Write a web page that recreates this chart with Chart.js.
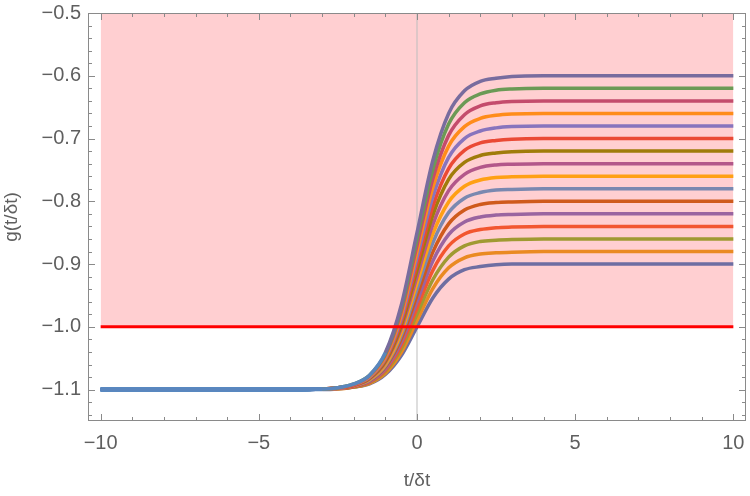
<!DOCTYPE html>
<html>
<head>
<meta charset="utf-8">
<script src="https://cdn.jsdelivr.net/npm/chart.js@4"></script>
<style>
  html, body { margin: 0; padding: 0; background: #fff; }
  #wrap { width: 750px; height: 496px; }
</style>
</head>
<body>
<div id="wrap"><canvas id="c" width="750" height="496"></canvas></div>
<script>
// sample times t/δt, shared by every curve
const tValues = [-10, -4, -3, -2.5, -2, -1.5, -1, -0.5, 0, 0.5, 1, 1.5, 2, 2.5, 3, 4, 10];

// g(t/δt), top (-0.60) to bottom (-0.90)
const g060 = [-1.1, -1.100, -1.099, -1.097, -1.091, -1.077, -1.041, -0.966, -0.85, -0.735, -0.660, -0.624, -0.609, -0.604, -0.601, -0.600, -0.60];
const g062 = [-1.1, -1.100, -1.099, -1.097, -1.091, -1.077, -1.043, -0.971, -0.86, -0.749, -0.677, -0.643, -0.629, -0.623, -0.621, -0.620, -0.62];
const g064 = [-1.1, -1.100, -1.099, -1.097, -1.092, -1.078, -1.045, -0.976, -0.87, -0.764, -0.695, -0.662, -0.648, -0.643, -0.641, -0.640, -0.64];
const g066 = [-1.1, -1.100, -1.099, -1.097, -1.092, -1.079, -1.048, -0.982, -0.88, -0.778, -0.712, -0.681, -0.668, -0.663, -0.661, -0.660, -0.66];
const g068 = [-1.1, -1.100, -1.099, -1.097, -1.092, -1.080, -1.050, -0.987, -0.89, -0.793, -0.730, -0.700, -0.688, -0.683, -0.681, -0.680, -0.68];
const g070 = [-1.1, -1.100, -1.099, -1.097, -1.093, -1.081, -1.052, -0.992, -0.90, -0.808, -0.748, -0.719, -0.707, -0.703, -0.701, -0.700, -0.70];
const g072 = [-1.1, -1.100, -1.099, -1.097, -1.093, -1.082, -1.055, -0.998, -0.91, -0.822, -0.765, -0.738, -0.727, -0.723, -0.721, -0.720, -0.72];
const g074 = [-1.1, -1.100, -1.099, -1.098, -1.094, -1.083, -1.057, -1.003, -0.92, -0.837, -0.783, -0.757, -0.746, -0.742, -0.741, -0.740, -0.74];
const g076 = [-1.1, -1.100, -1.099, -1.098, -1.094, -1.084, -1.060, -1.009, -0.93, -0.852, -0.801, -0.776, -0.766, -0.762, -0.761, -0.760, -0.76];
const g078 = [-1.1, -1.100, -1.099, -1.098, -1.094, -1.085, -1.062, -1.014, -0.94, -0.866, -0.818, -0.795, -0.786, -0.782, -0.781, -0.780, -0.78];
const g080 = [-1.1, -1.100, -1.099, -1.098, -1.095, -1.086, -1.064, -1.019, -0.95, -0.881, -0.836, -0.814, -0.805, -0.802, -0.801, -0.800, -0.80];
const g082 = [-1.1, -1.100, -1.099, -1.098, -1.095, -1.087, -1.067, -1.025, -0.96, -0.895, -0.853, -0.833, -0.825, -0.822, -0.821, -0.820, -0.82];
const g084 = [-1.1, -1.100, -1.099, -1.098, -1.095, -1.088, -1.069, -1.030, -0.97, -0.910, -0.871, -0.852, -0.845, -0.842, -0.841, -0.840, -0.84];
const g086 = [-1.1, -1.100, -1.099, -1.098, -1.096, -1.089, -1.071, -1.035, -0.98, -0.925, -0.889, -0.871, -0.864, -0.862, -0.861, -0.860, -0.86];
const g088 = [-1.1, -1.100, -1.099, -1.099, -1.096, -1.090, -1.074, -1.041, -0.99, -0.939, -0.906, -0.890, -0.884, -0.882, -0.881, -0.880, -0.88];
const g090 = [-1.1, -1.100, -1.100, -1.099, -1.096, -1.091, -1.076, -1.046, -1.00, -0.954, -0.924, -0.909, -0.904, -0.901, -0.900, -0.900, -0.90];

const curveColors = ['#786c9e', '#6b9a55', '#c44c6c', '#ff8c1a', '#8874bd', '#ea4a35', '#a07c0a', '#b3578a',
                     '#ffa014', '#7a88b0', '#cf5a1c', '#9a64a0', '#f25630', '#a09a32', '#ea8a22', '#6e6ea2'];

// shaded band, threshold line, x = 0 axis
const bandX = [-10, 10];
const bandTop = -0.5;
const threshold = -1.0;
const xRange = [-10.4, 10.4];
const yRange = [-1.15, -0.5];

const xTicks = [-10, -5, 0, 5, 10];
const xTickLabels = ['−10', '−5', '0', '5', '10'];
const yTicks = [-1.1, -1.0, -0.9, -0.8, -0.7, -0.6, -0.5];
const yTickLabels = ['−1.1', '−1.0', '−0.9', '−0.8', '−0.7', '−0.6', '−0.5'];

const curves = [g060, g062, g064, g066, g068, g070, g072, g074, g076, g078, g080, g082, g084, g086, g088, g090];

const FONT = "'Liberation Sans', Arial, sans-serif";
const TEXT = '#5f5f5f';
const FRAME = '#8a8a8a';
const LEAD_BLUE = '#5a86be';

const datasets = curves.map((ys, i) => ({
    data: tValues.map((t, j) => ({ x: t, y: ys[j] })),
    borderColor: curveColors[i],
    borderWidth: 3.5,
    pointRadius: 0,
    cubicInterpolationMode: 'monotone',
    fill: false,
    order: 2 + i,
    segment: {
        // the top curve's flat lead-in shows as blue over the bundle
        borderColor: (ctx) => (i === 0 && ctx.p1.parsed.x <= -1 ? LEAD_BLUE :
                               (ctx.p1.parsed.x <= -3 ? LEAD_BLUE : undefined)),
    },
}));

datasets.push({
    data: bandX.map((x) => ({ x: x, y: bandTop })),
    fill: { value: threshold },
    backgroundColor: '#ffcfd1',
    borderWidth: 0,
    pointRadius: 0,
    order: 100,
});
datasets.push({
    data: [{ x: 0, y: yRange[0] }, { x: 0, y: yRange[1] }],
    borderColor: '#bdbdbd',
    borderWidth: 1,
    pointRadius: 0,
    fill: false,
    order: 99,
});
datasets.push({
    data: bandX.map((x) => ({ x: x, y: threshold })),
    borderColor: '#ff0000',
    borderWidth: 3,
    pointRadius: 0,
    fill: false,
    order: 1,
});

// frame with inward ticks on all four sides
const framePlugin = {
    id: 'frame',
    afterDraw(chart) {
        const { ctx, chartArea: a, scales } = chart;
        const xs = scales.x, ys = scales.y;
        ctx.save();
        ctx.strokeStyle = FRAME;
        ctx.lineWidth = 1;
        ctx.strokeRect(Math.round(a.left) + 0.5, Math.round(a.top) + 0.5,
            Math.round(a.right - a.left) - 1, Math.round(a.bottom - a.top) - 1);
        ctx.beginPath();
        for (let v = -10; v <= 10; v++) {
            const len = v % 5 === 0 ? 7 : 4;
            const px = Math.round(xs.getPixelForValue(v)) + 0.5;
            ctx.moveTo(px, a.bottom); ctx.lineTo(px, a.bottom - len);
            ctx.moveTo(px, a.top); ctx.lineTo(px, a.top + len);
        }
        for (let k = -57; k <= -25; k++) {
            const v = k * 0.02;
            const len = k % 5 === 0 ? 7 : 4;
            const py = Math.round(ys.getPixelForValue(v)) + 0.5;
            ctx.moveTo(a.left, py); ctx.lineTo(a.left + len, py);
            ctx.moveTo(a.right, py); ctx.lineTo(a.right - len, py);
        }
        ctx.stroke();
        ctx.restore();
    },
};

new Chart(document.getElementById('c'), {
    type: 'line',
    data: { datasets },
    options: {
        responsive: false,
        animation: false,
        devicePixelRatio: 1,
        layout: { padding: { top: 13, right: 4, left: 0, bottom: 0 } },
        plugins: { legend: { display: false }, tooltip: { enabled: false } },
        scales: {
            x: {
                type: 'linear',
                min: xRange[0],
                max: xRange[1],
                afterBuildTicks: (s) => { s.ticks = xTicks.map((v) => ({ value: v })); },
                afterFit: (s) => { s.height = 75; s.paddingLeft = 0; s.paddingRight = 0; },
                grid: { display: false, drawTicks: false },
                border: { display: false },
                ticks: {
                    padding: 10,
                    color: TEXT,
                    font: { family: FONT, size: 20 },
                    maxRotation: 0,
                    callback: (v) => xTickLabels[xTicks.indexOf(v)],
                },
                title: {
                    display: true,
                    text: 't/δt',
                    color: TEXT,
                    font: { family: FONT, size: 19 },
                    padding: { top: 0, bottom: 4 },
                },
            },
            y: {
                type: 'linear',
                min: yRange[0],
                max: yRange[1],
                afterBuildTicks: (s) => { s.ticks = yTicks.map((v) => ({ value: v })); },
                afterFit: (s) => { s.width = 88; s.paddingTop = 0; s.paddingBottom = 0; },
                grid: { display: false, drawTicks: false },
                border: { display: false },
                ticks: {
                    padding: 7,
                    color: TEXT,
                    font: { family: FONT, size: 20 },
                    callback: (v) => {
                        const i = yTicks.findIndex((t) => Math.abs(t - v) < 1e-9);
                        return i >= 0 ? yTickLabels[i] : '';
                    },
                },
                title: {
                    display: true,
                    text: 'g(t/δt)',
                    color: TEXT,
                    font: { family: FONT, size: 19 },
                    padding: { top: 0, bottom: 0 },
                },
            },
        },
    },
    plugins: [framePlugin],
});
</script>
</body>
</html>
